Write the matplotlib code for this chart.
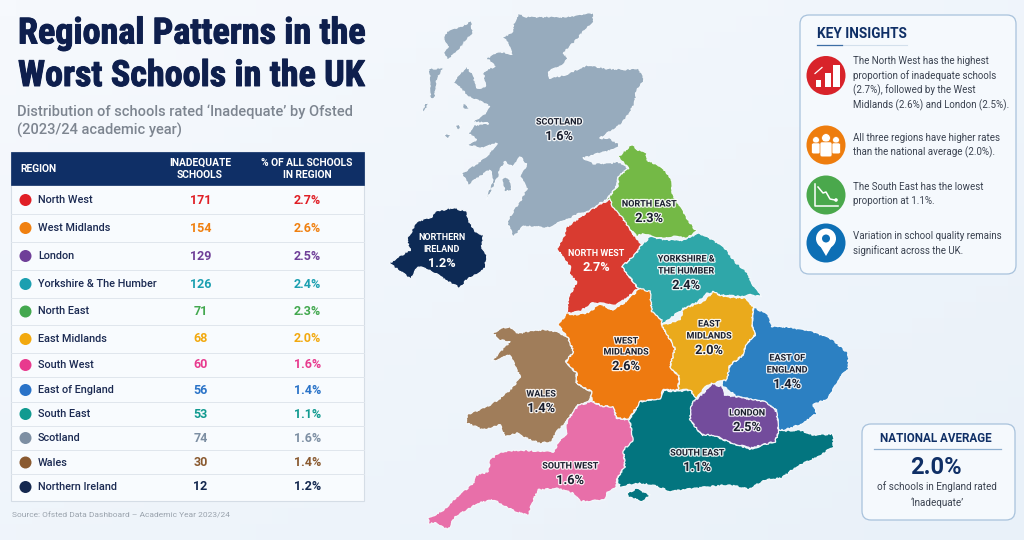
import numpy as np
import matplotlib
matplotlib.use("Agg")
import matplotlib.pyplot as plt
from matplotlib.patches import Polygon, Circle, FancyBboxPatch, Rectangle
import matplotlib.patheffects as pe

# ---------- data ----------
regions = ["North West", "West Midlands", "London", "Yorkshire & The Humber", "North East", "East Midlands",
           "South West", "East of England", "South East", "Scotland", "Wales", "Northern Ireland"]
inadequate = [171, 154, 129, 126, 71, 68, 60, 56, 53, 74, 30, 12]
percent = [2.7, 2.6, 2.5, 2.4, 2.3, 2.0, 1.6, 1.4, 1.1, 1.6, 1.4, 1.2]
table_colors = ["#e01f26", "#f08010", "#6f3f98", "#1b9fb0", "#43a84f", "#f2a90f",
                "#e83a8e", "#2a73c8", "#119a90", "#7d8fa3", "#8a5a30", "#14284f"]
row_centres = [200, 228, 256, 284, 311.5, 339, 365, 390, 414, 438, 462.5, 487]
row_lines = [213.5, 242, 270, 297.5, 325, 352.5, 377, 401.5, 425.5, 449.5, 473.5]

# map outlines (crop coordinates, see z3 / z4 / z5 / z6)
scotland = [(415,40),(440,50),(490,50),(560,50),(640,38),(640,65),(615,90),(590,120),(565,145),(550,160),(568,175),
 (545,195),(505,215),(510,235),(560,222),(620,195),(680,205),(740,208),(775,205),(795,238),(770,270),(765,310),
 (745,345),(720,375),(690,395),(660,415),(690,415),(720,435),(700,450),(660,460),(610,475),(640,490),(690,490),
 (715,485),(745,505),(715,530),(712,555),(680,600),(660,610),(640,630),(600,640),(570,655),(545,665),(500,685),
 (470,680),(430,680),(400,712),(380,665),(395,640),(425,595),(440,565),(420,530),(440,495),(420,470),(410,485),
 (395,500),(375,485),(360,510),(355,530),(320,600),(325,575),(340,540),(330,510),(300,530),(265,555),(245,520),
 (290,490),(320,470),(350,430),(310,445),(260,435),(290,420),(265,400),(280,375),(325,370),(275,365),(310,345),
 (330,320),(310,310),(290,300),(265,290),(220,245),(235,225),(260,200),(280,225),(290,265),(315,260),(310,220),
 (325,205),(345,200),(320,175),(345,160),(370,155),(395,165),(385,130),(365,110),(395,100),(400,70)]
scot_islands = [
 [(275,62),(278,100),(255,125),(240,145),(205,180),(190,160),(205,140),(190,115),(200,95),(240,80)],
 [(145,205),(190,205),(170,240),(165,295),(150,295),(150,240)],
 [(135,310),(150,310),(125,340)],
 [(225,375),(245,375),(235,390)],
 [(190,405),(212,400),(205,415)],
 [(365,535),(385,530),(397,570),(375,575)],
 [(245,310),(265,315),(265,328),(250,325)],
]
north_east = [(755,432),(775,450),(800,460),(800,480),(850,505),(875,540),(875,580),(900,620),(925,660),(950,695),
 (920,715),(880,710),(830,715),(790,700),(770,710),(730,665),(700,640),(680,600),(715,555),(715,530),(745,505),(715,470)]
northern_ireland = [(205,22),(245,35),(250,60),(270,95),(295,105),(290,145),(305,165),(300,205),(270,225),(245,240),
 (225,265),(180,240),(135,210),(100,200),(75,237),(40,210),(12,190),(50,165),(75,150),(65,120),(95,65),(140,50),(150,35)]
north_west = [(180,12),(190,40),(215,65),(240,105),(275,150),(250,185),(215,215),(235,240),(265,280),(230,310),(200,330),
 (165,325),(125,325),(90,350),(50,355),(55,310),(80,260),(60,240),(60,215),(20,160),(45,120),(45,100),(70,80),(100,60),(130,40)]
yorkshire = [(275,150),(300,125),(350,135),(400,135),(445,115),(490,135),(530,165),(555,200),(590,230),(615,280),(635,305),
 (600,300),(565,305),(510,300),(470,295),(445,320),(395,345),(340,385),(295,385),(300,335),(265,280),(235,240),(215,215),(250,185)]
east_midlands = [(880,65),(910,80),(975,85),(1000,110),(995,165),(1005,195),(975,225),(970,255),(930,285),(920,330),
 (860,345),(830,385),(810,360),(775,360),(778,320),(750,290),(765,235),(725,165),(780,150),(790,115),(850,95)]
east_england = [(1000,110),(1045,135),(1055,170),(1100,170),(1180,185),(1240,210),(1285,250),(1285,300),(1260,320),
 (1225,385),(1180,405),(1190,430),(1150,460),(1095,480),(1075,480),(1070,420),(1030,395),(950,380),(905,345),
 (930,285),(970,255),(975,225),(1005,195),(995,165)]
london = [(875,340),(905,350),(915,375),(975,385),(1035,395),(1070,425),(1075,490),(1065,515),(990,535),(925,515),
 (880,495),(845,495),(810,450),(815,400),(860,360)]
south_east = [(730,360),(765,365),(810,360),(830,385),(815,410),(810,450),(845,495),(880,495),(925,515),(990,537),
 (1065,515),(1075,482),(1140,480),(1180,495),(1240,492),(1240,530),(1195,560),(1130,590),(1085,625),(1035,630),
 (985,658),(930,645),(870,650),(750,665),(700,645),(650,640),(600,650),(590,625),(615,590),(610,540),(640,510),
 (628,450),(660,395),(720,385)]
isle_of_wight = [(620,670),(650,655),(690,675),(665,695),(625,680)]
south_west = [(475,405),(515,395),(545,408),(580,410),(590,445),(628,450),(642,510),(612,540),(615,590),(590,628),
 (590,655),(560,665),(555,690),(480,695),(460,670),(410,655),(355,660),(340,690),(325,735),(285,725),(220,690),
 (175,700),(105,740),(85,780),(50,760),(25,760),(25,745),(70,720),(110,680),(160,640),(170,615),(205,605),(210,570),
 (240,545),(300,540),(400,545),(420,510),(440,490),(440,455)]
wales = [(240,175),(265,170),(295,190),(320,185),(370,178),(410,185),(445,205),(460,245),(438,275),(470,310),(470,340),
 (515,365),(505,395),(470,410),(440,455),(410,485),(395,515),(360,520),(330,510),(290,490),(255,500),(240,465),
 (190,480),(140,460),(140,435),(200,410),(240,385),(280,350),(300,320),(285,290),(270,255),(215,275),(250,235),
 (270,215),(240,210),(220,190)]
west_midlands = [(660,55),(690,65),(695,125),(725,150),(725,165),(765,235),(750,290),(778,320),(775,360),(730,360),
 (720,385),(660,395),(628,447),(590,445),(580,410),(545,408),(515,393),(515,365),(470,340),(470,310),(438,275),
 (460,245),(445,205),(415,165),(440,130),(470,135),(510,125),(540,100),(575,120),(610,100)]

insight_lines = [["The North West has the highest", "proportion of inadequate schools",
                  "(2.7%), followed by the West", "Midlands (2.6%) and London (2.5%)."],
                 ["All three regions have higher rates", "than the national average (2.0%)."],
                 ["The South East has the lowest", "proportion at 1.1%."],
                 ["Variation in school quality remains", "significant across the UK."]]

NAVY = "#0e1f4d"
HEAD = "#0f2f66"
plt.rcParams["font.family"] = ["Roboto", "DejaVu Sans"]
TITLE_FONT = ["Roboto Condensed", "Archivo Narrow", "Roboto"]

z3 = lambda p: [(x / 3 + 380, y / 3) for x, y in p]
z4 = lambda p: [(x / 3 + 420, y / 3 + 270) for x, y in p]
z5 = lambda p: [(x / 3 + 550, y / 3 + 195) for x, y in p]
z6 = lambda p: [(x / 3 + 385, y / 3 + 200) for x, y in p]

fig = plt.figure(figsize=(10.24, 5.4), dpi=100)
ax = fig.add_axes([0, 0, 1, 1])
ax.set_xlim(0, 1024); ax.set_ylim(540, 0); ax.axis("off")

# background
gx = np.linspace(0, 1, 64); gy = np.linspace(0, 1, 34)
g = (gx[None, :] + gy[:, None]) / 2
c0 = np.array([0xf6, 0xf9, 0xfd]) / 255; c1 = np.array([0xe9, 0xf1, 0xf9]) / 255
bg = c0[None, None, :] + (c1 - c0)[None, None, :] * g[:, :, None]
ax.imshow(bg, extent=[0, 1024, 540, 0], aspect="auto", zorder=0)

# title
bold_stroke = [pe.withStroke(linewidth=0.7, foreground=NAVY)]
ax.text(18, 33.5, "Regional Patterns in the", fontsize=26, fontweight="bold", family=TITLE_FONT, color=NAVY, va="center", path_effects=bold_stroke)
ax.text(18, 76, "Worst Schools in the UK", fontsize=26, fontweight="bold", family=TITLE_FONT, color=NAVY, va="center", path_effects=bold_stroke)
ax.text(17, 112, "Distribution of schools rated ‘Inadequate’ by Ofsted", fontsize=10.55, color="#7d8590", fontweight="medium", va="center")
ax.text(17, 130, "(2023/24 academic year)", fontsize=10.55, color="#7d8590", fontweight="medium", va="center")

# table
ax.add_patch(Rectangle((11, 152), 353, 349, fc="#f8fbfe", ec="#d5dde6", lw=0.8, zorder=1))
ax.add_patch(Rectangle((11, 152), 353, 33, fc=HEAD, ec=HEAD, lw=0.5, zorder=2))
ax.text(20, 168.5, "REGION", color="white", fontsize=7.4, fontweight="bold", va="center", zorder=3)
for y, t in zip((163, 175.5), ("INADEQUATE", "SCHOOLS")):
    ax.text(200, y, t, color="white", fontsize=7.4, fontweight="bold", ha="center", va="center", zorder=3)
for y, t in zip((163, 175.5), ("% OF ALL SCHOOLS", "IN REGION")):
    ax.text(307, y, t, color="white", fontsize=7.4, fontweight="bold", ha="center", va="center", zorder=3)
for y in row_lines:
    ax.plot([11, 364], [y, y], color="#e0e6ed", lw=0.7, zorder=2)
for name, n, pct, col, y in zip(regions, inadequate, percent, table_colors, row_centres):
    ax.add_patch(Circle((25.5, y), 6, fc=col, ec="none", zorder=3))
    ax.text(38, y, name, color="#1b2a52", fontsize=7.8, fontweight="medium", va="center", zorder=3)
    ax.text(200.5, y, str(n), color=col, fontsize=9, fontweight="bold", ha="center", va="center", zorder=3)
    ax.text(307.5, y, f"{pct:.1f}%", color=col, fontsize=9, fontweight="bold", ha="center", va="center", zorder=3)
ax.text(12, 515, "Source: Ofsted Data Dashboard – Academic Year 2023/24", color="#9aa3ad", fontsize=6.05, va="center")

# map
def region(pts, conv, col, z=2):
    p = Polygon(conv(pts), closed=True, fc=col, ec="#f4f8fc", lw=0.9, zorder=z, joinstyle="round")
    p.set_sketch_params(scale=0.7, length=8, randomness=20)
    ax.add_patch(p)

region(scotland, z3, "#97abbd")
for isl in scot_islands:
    region(isl, z3, "#97abbd")
region(north_east, z3, "#74b946", 3)
region(northern_ireland, z6, "#0d2a55", 3)
region(north_west, z5, "#d93b30", 3)
region(yorkshire, z5, "#2fa7a9", 3)
region(wales, z4, "#a07d5a", 3)
region(south_west, z4, "#e86fa9", 3)
region(south_east, z4, "#03757f", 3)
region(isle_of_wight, z4, "#03757f", 3)
region(east_england, z4, "#2c80c2", 3)
region(west_midlands, z4, "#ee7a10", 4)
region(east_midlands, z4, "#eaaa1c", 4)
region(london, z4, "#734c9c", 5)

def label(x, ys, lines, val, white=False, fs=6.5, vfs=9.2):
    col = "white" if white else "#1a1f2e"
    eff = None if white else [pe.withStroke(linewidth=1.8, foreground="white", alpha=0.9)]
    for y, t in zip(ys, lines):
        ax.text(x, y, t, fontsize=fs, color=col, fontweight="bold", ha="center", va="center", zorder=8, path_effects=eff)
    ax.text(x, ys[-1] + 14.5, val, fontsize=vfs, color=col, fontweight="bold", ha="center", va="center", zorder=8, path_effects=eff)

label(559, [122], ["SCOTLAND"], "1.6%")
label(649, [204], ["NORTH EAST"], "2.3%")
label(596, [253], ["NORTH WEST"], "2.7%", white=True)
label(442, [238, 249], ["NORTHERN", "IRELAND"], "1.2%", white=True)
label(686, [259, 271], ["YORKSHIRE &", "THE HUMBER"], "2.4%")
label(709, [324, 336], ["EAST", "MIDLANDS"], "2.0%")
label(626, [341, 352], ["WEST", "MIDLANDS"], "2.6%")
label(787, [358, 370], ["EAST OF", "ENGLAND"], "1.4%")
label(747, [413], ["LONDON"], "2.5%")
label(541, [394], ["WALES"], "1.4%")
label(570, [466], ["SOUTH WEST"], "1.6%")
label(697, [453], ["SOUTH EAST"], "1.1%")

# key insights panel
def panel(x0, y0, x1, y1):
    ax.add_patch(FancyBboxPatch((x0 + 8, y0 + 8), x1 - x0 - 16, y1 - y0 - 16,
                                boxstyle="round,pad=8,rounding_size=9", fc="#f5f9fd", ec="#a8c2dc", lw=0.9, zorder=2))

panel(800, 15, 1016, 274)
ax.text(817, 34, "KEY INSIGHTS", fontsize=9.8, color=HEAD, fontweight="bold", va="center", zorder=3)
ax.plot([817, 907], [45, 45], color="#d3e0ec", lw=0.8, zorder=3)
ax.plot([817, 842], [45, 45], color="#3c6ea5", lw=0.9, zorder=4)

icon_xy = [(826, 75.5), (826, 145), (826, 195), (826, 243)]
icon_col = ["#d8232a", "#ee7d0e", "#4aa84c", "#0d6fb5"]
text_y = [[61, 76, 90, 105], [138, 152], [187, 201.5], [236, 251]]
for (cx, cy), c in zip(icon_xy, icon_col):
    ax.add_patch(Circle((cx, cy), 19.5, fc=c, ec="none", zorder=3))
for ys, ls in zip(text_y, insight_lines):
    for y, t in zip(ys, ls):
        ax.text(853, y, t, fontsize=7.0, color="#3a4250", va="center", zorder=3)

# icon 1: bars
cx, cy = icon_xy[0]
for dx, top, w in ((-10, 4, 5), (-1.5, -3, 6), (7, -11, 7)):
    ax.add_patch(Rectangle((cx + dx, cy + top), w, 11 - top, fc="white", ec="none", zorder=4))
ax.plot([cx - 11, cx - 4], [cy - 2, cy - 8], color="white", lw=0.9, zorder=4)
# icon 2: people
cx, cy = icon_xy[1]
for dx, dy, r, w, h in ((-10, -5, 3.4, 9, 11), (10, -5, 3.4, 9, 11), (0, -7, 4.4, 12, 15)):
    ax.add_patch(Circle((cx + dx, cy + dy), r, fc="white", ec=icon_col[1], lw=0.5, zorder=4))
    ax.add_patch(FancyBboxPatch((cx + dx - w / 2 + 2, cy + dy + r + 1.5), w - 4, h - 4,
                                boxstyle="round,pad=2", fc="white", ec=icon_col[1], lw=0.5, zorder=4))
# icon 3: falling chart
cx, cy = icon_xy[2]
ax.plot([cx - 11, cx - 11, cx + 12], [cy - 11, cy + 11, cy + 11], color="white", lw=1.1, zorder=4)
ax.plot([cx - 8, cx - 3, cx + 0, cx + 4, cx + 9], [cy - 8, cy - 2, cy - 3, cy + 4, cy + 5], color="white", lw=1.1, zorder=4)
ax.add_patch(Circle((cx + 10, cy + 5), 1.8, fc="white", ec="none", zorder=4))
# icon 4: pin
cx, cy = icon_xy[3]
ax.add_patch(Polygon([(cx - 10, cy - 4), (cx + 10, cy - 4), (cx, cy + 13)], fc="white", ec="none", zorder=4))
ax.add_patch(Circle((cx, cy - 4.5), 10, fc="white", ec="none", zorder=4))
ax.add_patch(Circle((cx, cy - 4.5), 4, fc=icon_col[3], ec="none", zorder=5))

# national average panel
panel(862, 424, 1015, 520)
ax.text(936, 438, "NATIONAL AVERAGE", fontsize=8.4, color=HEAD, fontweight="bold", ha="center", va="center", zorder=3)
ax.plot([874, 1001], [449, 449], color="#8fb0d0", lw=0.9, zorder=3)
ax.text(936, 467.5, "2.0%", fontsize=17, color=HEAD, fontweight="bold", ha="center", va="center", zorder=3)
ax.text(937, 487, "of schools in England rated", fontsize=7.1, color="#3a4250", ha="center", va="center", zorder=3)
ax.text(937, 503, "‘Inadequate’", fontsize=7.1, color="#3a4250", ha="center", va="center", zorder=3)

fig.savefig("out.png", dpi=100)
